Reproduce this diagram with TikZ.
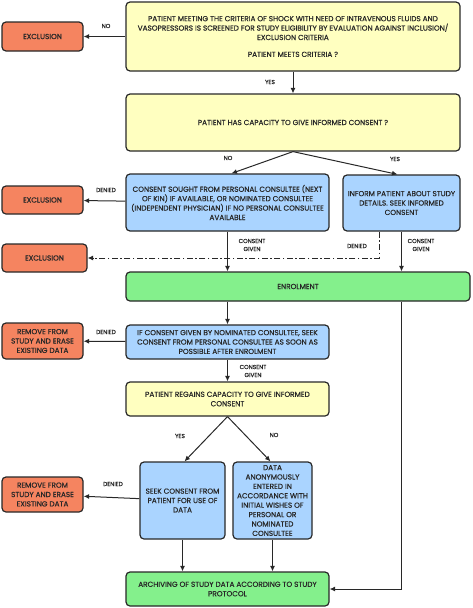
\documentclass[tikz,border=0pt]{standalone}
\usepackage{fontspec}
\usetikzlibrary{arrows.meta}
\newfontfamily\flowfont[FakeBold=0.6]{Poppins}
\definecolor{qyellow}{RGB}{255,255,192}
\definecolor{qblue}{RGB}{170,212,255}
\definecolor{qgreen}{RGB}{132,240,140}
\definecolor{qorange}{RGB}{245,132,96}
\definecolor{qline}{RGB}{40,40,40}
\tikzset{
    box/.style={draw=qline, line width=1.2pt, rounded corners=4pt, align=center,
        inner sep=1pt, text=qline, font=\flowfont\fontsize{7.3}{9.4}\selectfont},
    askbox/.style={box, fill=qyellow},
    actbox/.style={box, fill=qblue},
    okbox/.style={box, fill=qgreen},
    outbox/.style={box, fill=qorange},
    lbl/.style={align=center, text=qline, inner sep=0pt,
        font=\flowfont\fontsize{5.8}{8}\selectfont},
    link/.style={draw=qline, line width=1pt, ->},
    >={Latex[length=5.5pt,width=5pt]}
}
\begin{document}
\begin{tikzpicture}[x=1pt, y=-1pt]
    \useasboundingbox (0, 0) rectangle (472, 608);
    % boxes
    \node[askbox, minimum width=334pt, minimum height=69pt] (crit) at (293, 36.5)
        {PATIENT MEETING THE CRITERIA OF SHOCK WITH NEED OF INTRAVENOUS FLUIDS AND\\
         VASOPRESSORS IS SCREENED FOR STUDY ELIGIBILITY BY EVALUATION AGAINST INCLUSION/\\
         EXCLUSION CRITERIA\\[7.5pt] PATIENT MEETS CRITERIA ?};
    \node[outbox, minimum width=81pt, minimum height=29pt] (excl1) at (42.5, 36.5) {EXCLUSION};
    \node[askbox, minimum width=334pt, minimum height=57pt] (cap) at (293, 122.5)
        {PATIENT HAS CAPACITY TO GIVE INFORMED CONSENT ?};
    \node[actbox, minimum width=203pt, minimum height=57pt] (cons) at (227.5, 202.5)
        {CONSENT SOUGHT FROM PERSONAL CONSULTEE (NEXT\\ OF KIN) IF AVAILABLE, OR NOMINATED CONSULTEE\\
         (INDEPENDENT PHYSICIAN) IF NO PERSONAL CONSULTEE\\ AVAILABLE};
    \node[actbox, minimum width=117pt, minimum height=56pt] (inform) at (401.5, 203)
        {INFORM PATIENT ABOUT STUDY\\ DETAILS. SEEK INFORMED\\ CONSENT};
    \node[outbox, minimum width=81pt, minimum height=28pt] (excl2) at (42.5, 200) {EXCLUSION};
    \node[outbox, minimum width=85pt, minimum height=28pt] (excl3) at (44.5, 258) {EXCLUSION};
    \node[okbox, minimum width=344pt, minimum height=29pt] (enrol) at (298, 286.5) {ENROLMENT};
    \node[actbox, minimum width=203pt, minimum height=34pt] (nomin) at (227.5, 342)
        {IF CONSENT GIVEN BY NOMINATED CONSULTEE, SEEK\\ CONSENT FROM PERSONAL CONSULTEE AS SOON AS\\
         POSSIBLE AFTER ENROLMENT};
    \node[outbox, minimum width=81pt, minimum height=36pt] (remove1) at (42.5, 341)
        {REMOVE FROM\\ STUDY AND ERASE\\ EXISTING DATA};
    \node[askbox, minimum width=203pt, minimum height=34pt] (regain) at (227.5, 399)
        {PATIENT REGAINS CAPACITY TO GIVE INFORMED\\ CONSENT};
    \node[actbox, minimum width=85pt, minimum height=77pt] (seekpat) at (182.5, 500.5)
        {SEEK CONSENT FROM\\ PATIENT FOR USE OF\\ DATA};
    \node[actbox, minimum width=79pt, minimum height=77pt] (anon) at (272.5, 500.5)
        {DATA\\ ANONYMOUSLY\\ ENTERED IN\\ ACCORDANCE WITH\\ INITIAL WISHES OF\\ PERSONAL OR\\
         NOMINATED\\ CONSULTEE};
    \node[outbox, minimum width=81pt, minimum height=35pt] (remove2) at (42.5, 494.5)
        {REMOVE FROM\\ STUDY AND ERASE\\ EXISTING DATA};
    \node[okbox, minimum width=203pt, minimum height=34pt] (archive) at (227.5, 589)
        {ARCHIVING OF STUDY DATA ACCORDING TO STUDY\\ PROTOCOL};
    % connectors
    \draw[link] (crit) -- (excl1);
    \draw[link] (crit) -- (cap);
    \draw[link] (cap.south) -- ([xshift=4pt]cons.north);
    \draw[link] (cap.south) -- ([xshift=-4pt]inform.north);
    \draw[link] (cons) -- (excl2);
    \draw[link] (cons) -- (cons |- enrol.north);
    \draw[link] (inform) -- (inform |- enrol.north);
    \draw[link, dash pattern=on 6pt off 2.5pt on 1.5pt off 2.5pt]
        ([xshift=-22.5pt]inform.south) |- (excl3);
    \draw[link] (enrol.south -| nomin) -- (nomin);
    \draw[link] (nomin) -- (remove1);
    \draw[link] (nomin) -- (regain);
    \draw[link] (regain.south) -- ([xshift=2pt]seekpat.north);
    \draw[link] (regain.south) -- ([xshift=-2pt]anon.north);
    \draw[link] (seekpat) -- (remove2);
    \draw[link] (seekpat) -- (seekpat |- archive.north);
    \draw[link] (anon) -- (anon |- archive.north);
    \draw[link] (enrol.south -| inform) |- (archive);
    % labels
    \node[lbl] (tNo) at (106, 26) {NO};
    \node[lbl] (tYes) at (270, 82) {YES};
    \node[lbl] (tNoCap) at (228, 158) {NO};
    \node[lbl] (tYesCap) at (395, 159) {YES};
    \node[lbl] (tDenA) at (106, 190) {DENIED};
    \node[lbl] (tGivA) at (252, 245) {CONSENT\\ GIVEN};
    \node[lbl] (tDenB) at (357, 246) {DENIED};
    \node[lbl] (tGivB) at (421, 245) {CONSENT\\ GIVEN};
    \node[lbl] (tDenC) at (106, 332) {DENIED};
    \node[lbl] (tGivC) at (253, 371) {CONSENT\\ GIVEN};
    \node[lbl] (tYesReg) at (180, 436) {YES};
    \node[lbl] (tNoReg) at (274, 435) {NO};
    \node[lbl] (tDenD) at (113, 484) {DENIED};
\end{tikzpicture}
\end{document}
